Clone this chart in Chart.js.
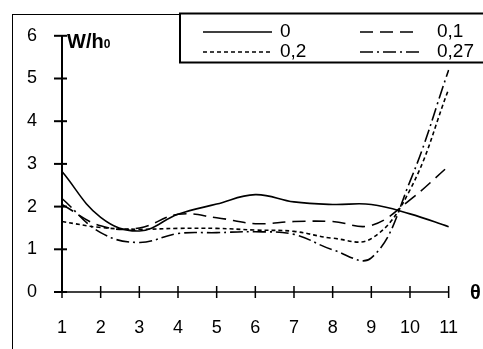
<!DOCTYPE html>
<html>
<head>
<meta charset="utf-8">
<script src="https://cdn.jsdelivr.net/npm/chart.js@4"></script>
<style>
  html, body { margin: 0; padding: 0; background: #fff; }
  #wrap { width: 483px; height: 349px; }
</style>
</head>
<body>
<div id="wrap"><canvas id="myChart" width="483" height="349"></canvas></div>
<script>
// theta values on the x axis
const xLabels = ["1", "2", "3", "4", "5", "6", "7", "8", "9", "10", "11"];
const yTicks = [0, 1, 2, 3, 4, 5, 6];

// W/h0 for each series
const serie0 = [2.82, 1.75, 1.43, 1.82, 2.06, 2.28, 2.11, 2.05, 2.05, 1.83, 1.53];
const serie01 = [2.05, 1.55, 1.5, 1.82, 1.74, 1.6, 1.65, 1.65, 1.56, 2.16, 2.95];
const serie02 = [1.65, 1.51, 1.47, 1.49, 1.49, 1.45, 1.42, 1.26, 1.25, 2.39, 4.75];
const serie027 = [2.19, 1.39, 1.16, 1.37, 1.39, 1.41, 1.35, 0.99, 0.8, 2.59, 5.2];

const seriesNames = ["0", "0,1", "0,2", "0,27"];
const dashes = [[], [13, 7], [4, 3], [13, 4, 2, 4]];

const FONT = "'Liberation Sans', Arial, sans-serif";

// axes, ticks, frame, legend and labels drawn on top
const decorPlugin = {
  id: "decor",
  afterDatasetsDraw(chart) {
    const ctx = chart.ctx;
    const xs = chart.scales.x;
    const ys = chart.scales.y;
    const x0 = xs.getPixelForValue(0);
    const x1 = xs.getPixelForValue(xLabels.length - 1);
    const yb = ys.getPixelForValue(0);
    const yt = ys.getPixelForValue(6);

    ctx.save();
    ctx.strokeStyle = "#000";
    ctx.fillStyle = "#000";

    // outer frame
    ctx.lineWidth = 1;
    ctx.strokeRect(12.5, 14.5, 700, 700);

    // y axis
    ctx.lineWidth = 2;
    ctx.beginPath();
    ctx.moveTo(x0, yt);
    ctx.lineTo(x0, yb);
    ctx.stroke();
    yTicks.forEach(v => {
      const y = ys.getPixelForValue(v);
      ctx.beginPath();
      ctx.moveTo(x0 - 8, y);
      ctx.lineTo(x0 + 5, y);
      ctx.stroke();
    });

    // x axis
    ctx.lineWidth = 1.5;
    ctx.beginPath();
    ctx.moveTo(x0 - 8, yb);
    ctx.lineTo(x1, yb);
    ctx.stroke();
    xLabels.forEach((l, i) => {
      const x = xs.getPixelForValue(i);
      ctx.beginPath();
      ctx.moveTo(x, yb - 6);
      ctx.lineTo(x, yb + 6);
      ctx.stroke();
    });

    // axis titles
    ctx.textBaseline = "alphabetic";
    ctx.textAlign = "left";
    ctx.font = "bold 20px " + FONT;
    ctx.fillText("W/h", 67, 48);
    const w = ctx.measureText("W/h").width;
    ctx.font = "bold 12px " + FONT;
    ctx.fillText("0", 67 + w, 48);

    ctx.font = "bold 20px " + FONT;
    ctx.textBaseline = "middle";
    ctx.fillText("θ", 470, yb + 1);

    // legend box
    const lx = 180, ly = 13.5, lw = 320, lh = 49;
    ctx.fillStyle = "#fff";
    ctx.fillRect(lx, ly, lw, lh);
    ctx.lineWidth = 2;
    ctx.strokeRect(lx, ly, lw, lh);

    const items = [
      { x: 203, y: 32, tx: 280 },
      { x: 360, y: 32, tx: 437 },
      { x: 203, y: 52, tx: 280 },
      { x: 360, y: 52, tx: 437 }
    ];
    ctx.font = "19px " + FONT;
    ctx.textBaseline = "middle";
    items.forEach((it, i) => {
      ctx.lineWidth = 1.5;
      ctx.setLineDash(dashes[i]);
      ctx.beginPath();
      ctx.moveTo(it.x, it.y);
      ctx.lineTo(it.x + (i % 2 ? 60 : 69), it.y);
      ctx.stroke();
      ctx.setLineDash([]);
      ctx.fillStyle = "#000";
      ctx.fillText(seriesNames[i], it.tx, it.y);
    });

    ctx.restore();
  }
};

document.addEventListener("DOMContentLoaded", function () {
  const ctx = document.getElementById("myChart").getContext("2d");
  const allSeries = [serie0, serie01, serie02, serie027];

  new Chart(ctx, {
    type: "line",
    data: {
      labels: xLabels,
      datasets: allSeries.map((s, i) => ({
        label: seriesNames[i],
        data: s,
        borderColor: "#000",
        borderWidth: 1.6,
        borderDash: dashes[i],
        pointRadius: 0,
        tension: 0.4,
        fill: false
      }))
    },
    options: {
      responsive: false,
      animation: false,
      layout: { padding: { left: 0, right: 20, top: 32, bottom: 0 } },
      scales: {
        x: {
          grid: { display: false, drawTicks: false },
          border: { display: false },
          ticks: { color: "#000", font: { family: FONT, size: 18 }, padding: 25, maxRotation: 0, autoSkip: false },
          afterFit(scale) { scale.height = 57; }
        },
        y: {
          min: 0,
          max: 6,
          grid: { display: false, drawTicks: false },
          border: { display: false },
          ticks: { color: "#000", font: { family: FONT, size: 18 }, padding: 25, stepSize: 1 },
          afterFit(scale) { scale.width = 62; }
        }
      },
      plugins: {
        legend: { display: false },
        tooltip: { enabled: false }
      }
    },
    plugins: [decorPlugin]
  });
});
</script>
</body>
</html>
